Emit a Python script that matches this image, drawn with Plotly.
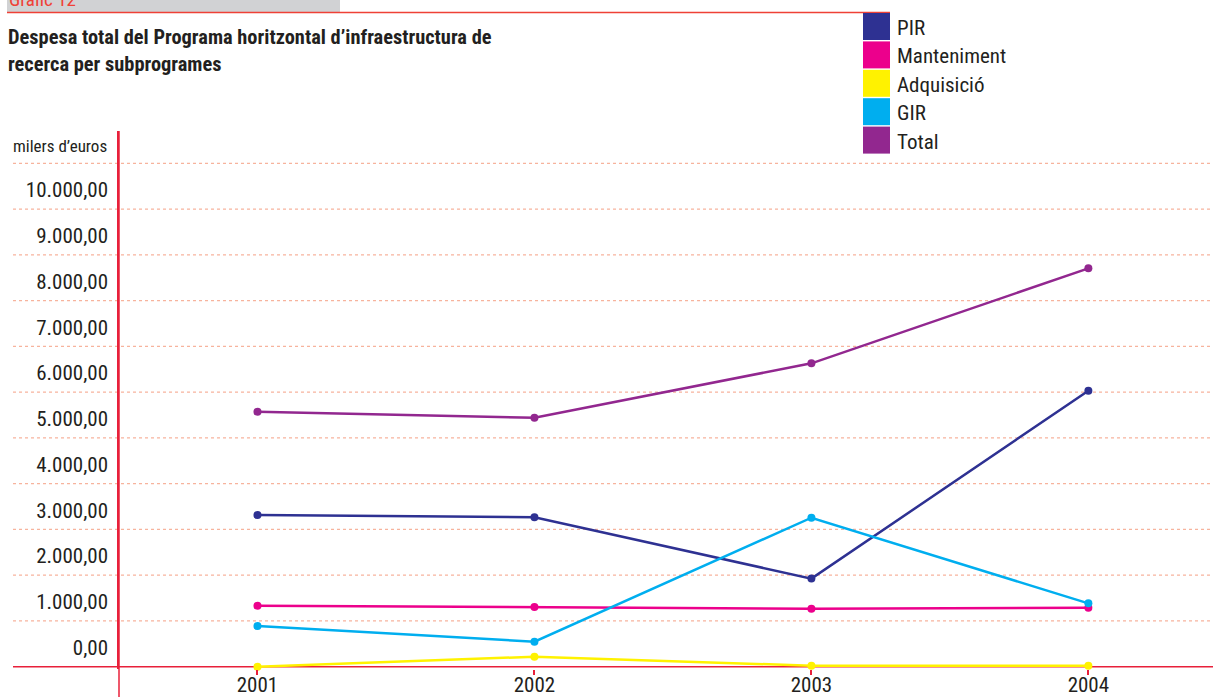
import plotly.graph_objects as go

# ---------------- data ----------------
years = ["2001", "2002", "2003", "2004"]
series_names = ["PIR", "Manteniment", "Adquisició", "GIR", "Total"]
pir = [3315, 3265, 1925, 6030]
manteniment = [1333, 1305, 1268, 1289]
adquisicio = [0, 219, 22, 22]
gir = [889, 546, 3256, 1385]
total = [5572, 5441, 6630, 8706]
series_values = [pir, manteniment, adquisicio, gir, total]
series_colors = ["#2e3192", "#ec008c", "#fff200", "#00aeef", "#92278f"]

y_gridlines = [0, 1000, 2000, 3000, 4000, 5000, 6000, 7000, 8000, 9000, 10000, 11000]
y_tick_labels = ["0,00", "1.000,00", "2.000,00", "3.000,00", "4.000,00", "5.000,00",
                 "6.000,00", "7.000,00", "8.000,00", "9.000,00", "10.000,00"]

title_text = "Despesa total del Programa horitzontal d’infraestructura de<br>recerca per subprogrames"
unit_text = "milers d’euros"
header_text = "Gràfic 12"

# ---------------- layout geometry ----------------
W, H = 1213, 697
L, R, T, B = 119, 0, 131, 28
PW, PH = W - L - R, H - T - B


def px(x):
    return (x - L) / PW


def py(y):
    return (H - B - y) / PH


FONT = "Liberation Sans Narrow, Roboto Condensed, Arial Narrow, Roboto, sans-serif"
RED = "#e8203a"
GRID = "#f7b39d"
TXT = "#231f20"

fig = go.Figure()
for name, vals, col in zip(series_names, series_values, series_colors):
    fig.add_trace(go.Scatter(
        x=years, y=vals, name=name, mode="lines+markers",
        line=dict(color=col, width=2.5),
        marker=dict(color=col, size=8),
        cliponaxis=False, showlegend=False,
    ))

shapes = []
# dotted gridlines extending to the left margin
for g in y_gridlines[1:]:
    shapes.append(dict(type="line", xref="paper", yref="y", x0=px(13), x1=1, y0=g, y1=g,
                       line=dict(color=GRID, width=1.2, dash="dot"), layer="below"))
# zero axis line (red) extending left
shapes.append(dict(type="line", xref="paper", yref="y", x0=px(13), x1=1, y0=0, y1=0,
                   line=dict(color=RED, width=1.5), layer="below"))
# y-axis line extension below the plot
shapes.append(dict(type="line", xref="paper", yref="paper", x0=0, x1=0, y0=py(697), y1=1,
                   line=dict(color=RED, width=1.5), layer="below"))
# header gray bar + red rule
shapes.append(dict(type="rect", xref="paper", yref="paper", x0=px(7), x1=px(340), y0=py(12), y1=py(-2),
                   fillcolor="#d1d2d4", line=dict(width=0)))
shapes.append(dict(type="line", xref="paper", yref="paper", x0=px(7), x1=px(890), y0=py(12.5), y1=py(12.5),
                   line=dict(color="#ef4136", width=1.5)))

annotations = []
# custom legend
box_top = 13
pitch = 28.4
for i, (name, col) in enumerate(zip(series_names, series_colors)):
    t = box_top + i * pitch
    shapes.append(dict(type="rect", xref="paper", yref="paper", x0=px(863), x1=px(890),
                       y0=py(t + 27), y1=py(t), fillcolor=col, line=dict(width=0)))
    annotations.append(dict(text=name, xref="paper", yref="paper", x=px(895), y=py(t + 15),
                            xanchor="left", yanchor="middle", showarrow=False,
                            font=dict(family=FONT, size=21, color=TXT)))

annotations.append(dict(text=title_text, xref="paper", yref="paper", x=px(6), y=py(23),
                        xanchor="left", yanchor="top", align="left", showarrow=False,
                        font=dict(family=FONT, size=20.4, color=TXT, weight="bold")))
annotations.append(dict(text=unit_text, xref="paper", yref="paper", x=px(109), y=py(146),
                        xanchor="right", yanchor="middle", showarrow=False,
                        font=dict(family=FONT, size=17, color=TXT)))
annotations.append(dict(text=header_text, xref="paper", yref="paper", x=px(7), y=py(13),
                        xanchor="left", yanchor="bottom", showarrow=False,
                        font=dict(family=FONT, size=19, color="#ef4136")))

fig.update_layout(
    width=W, height=H,
    margin=dict(l=L, r=R, t=T, b=B, pad=0),
    plot_bgcolor="white", paper_bgcolor="white",
    shapes=shapes, annotations=annotations,
    font=dict(family=FONT, color=TXT),
    xaxis=dict(type="category", range=[-0.5, 3.45], showgrid=False, zeroline=False,
               showline=False, ticks="outside", ticklen=5, tickwidth=1.5, tickcolor=RED,
               automargin=False, ticklabelstandoff=-8,
               tickfont=dict(family=FONT, size=21, color=TXT), fixedrange=True),
    yaxis=dict(range=[-50, 11707], showgrid=False, zeroline=False,
               showline=True, linecolor=RED, linewidth=1.5, automargin=False,
               tickvals=[g + 420 for g in y_gridlines[:-1]], ticktext=y_tick_labels,
               ticks="", ticklabelstandoff=5,
               tickfont=dict(family=FONT, size=21, color=TXT), fixedrange=True),
)

fig.write_html("out.html", config={"displayModeBar": False},
               post_script="document.body.style.margin='0';document.body.style.overflow='hidden';")
